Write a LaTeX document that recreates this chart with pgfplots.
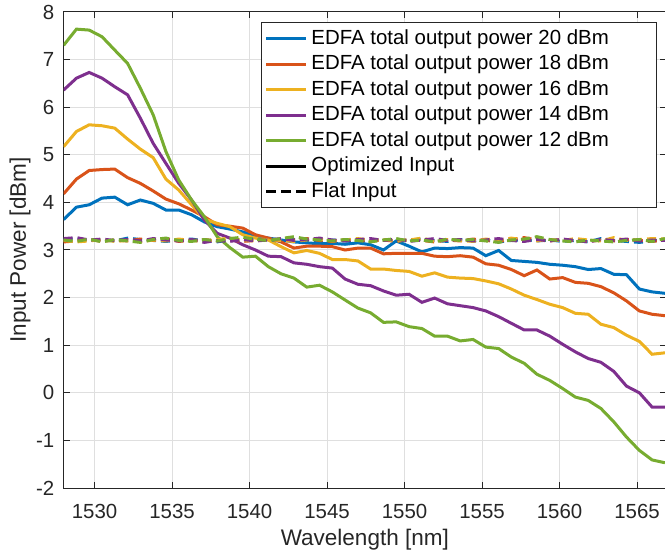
\documentclass[border=0pt]{standalone}
\usepackage{fontspec}
\setmainfont{Liberation Sans}
\usepackage{pgfplots}
\usepackage{pgfplotstable}
\pgfplotsset{compat=1.18}

% MATLAB default line colours
\definecolor{mBlue}{RGB}{0,114,189}
\definecolor{mRed}{RGB}{217,83,25}
\definecolor{mYellow}{RGB}{237,177,32}
\definecolor{mPurple}{RGB}{126,47,142}
\definecolor{mGreen}{RGB}{119,172,48}
\definecolor{axgray}{RGB}{38,38,38}
\definecolor{gridgray}{RGB}{223,223,223}

% input power per channel [dBm]
% b/r/y/p/g : optimized input for EDFA output 20/18/16/14/12 dBm
% bf..gf    : flat input for the same EDFA settings
\pgfplotstableread{
x       b     r     y     p     g      bf   rf   yf   pf   gf
1528.00 3.64  4.18  5.17  6.36  7.30  3.22 3.17 3.20 3.24 3.21
1528.83 3.90  4.49  5.49  6.61  7.64  3.24 3.19 3.17 3.26 3.18
1529.65 3.95  4.67  5.63  6.73  7.62  3.20 3.22 3.19 3.21 3.23
1530.48 4.09  4.69  5.61  6.61  7.48  3.21 3.18 3.22 3.23 3.17
1531.30 4.11  4.70  5.56  6.43  7.20  3.19 3.21 3.18 3.20 3.22
1532.13 3.95  4.52  5.33  6.26  6.92  3.25 3.19 3.20 3.22 3.19
1532.95 4.05  4.40  5.12  5.77  6.40  3.22 3.23 3.17 3.19 3.16
1533.78 3.98  4.24  4.94  5.24  5.84  3.20 3.20 3.21 3.24 3.22
1534.60 3.84  4.07  4.49  4.82  5.07  3.18 3.24 3.19 3.21 3.25
1535.43 3.84  3.97  4.26  4.40  4.47  3.21 3.18 3.23 3.19 3.20
1536.26 3.74  3.84  3.95  4.05  4.05  3.23 3.20 3.20 3.22 3.18
1537.08 3.59  3.70  3.65  3.63  3.70  3.19 3.22 3.18 3.16 3.22
1537.91 3.49  3.53  3.56  3.35  3.28  3.17 3.19 3.22 3.20 3.19
1538.73 3.44  3.50  3.49  3.25  3.05  3.22 3.21 3.25 3.18 3.24
1539.56 3.38  3.46  3.32  3.11  2.85  3.20 3.18 3.21 3.22 3.27
1540.38 3.29  3.32  3.25  3.00  2.87  3.24 3.20 3.19 3.19 3.22
1541.21 3.25  3.25  3.21  2.87  2.65  3.21 3.23 3.22 3.21 3.20
1542.03 3.21  3.17  3.07  2.86  2.50  3.19 3.19 3.20 3.24 3.24
1542.86 3.17  3.04  2.94  2.73  2.41  3.22 3.21 3.18 3.20 3.28
1543.69 3.15  3.08  2.99  2.70  2.22  3.20 3.24 3.21 3.22 3.23
1544.51 3.13  3.08  2.93  2.65  2.26  3.18 3.20 3.23 3.25 3.21
1545.34 3.14  3.07  2.80  2.62  2.12  3.21 3.18 3.19 3.21 3.19
1546.16 3.12  3.00  2.80  2.39  1.95  3.19 3.22 3.21 3.19 3.22
1546.99 3.15  3.04  2.77  2.28  1.78  3.17 3.20 3.24 3.22 3.20
1547.81 3.11  3.04  2.60  2.25  1.68  3.20 3.19 3.20 3.24 3.17
1548.64 3.00  2.92  2.60  2.14  1.48  3.22 3.21 3.22 3.20 3.21
1549.46 3.19  2.93  2.57  2.05  1.49  3.19 3.18 3.19 3.23 3.24
1550.29 3.08  2.93  2.55  2.07  1.39  3.21 3.22 3.21 3.18 3.19
1551.12 2.96  2.93  2.45  1.90  1.35  3.23 3.20 3.25 3.21 3.21
1551.94 3.04  2.87  2.52  1.99  1.19  3.20 3.17 3.19 3.24 3.17
1552.77 3.03  2.86  2.43  1.87  1.19  3.18 3.21 3.22 3.20 3.23
1553.59 3.05  2.88  2.41  1.83  1.09  3.22 3.19 3.20 3.22 3.20
1554.42 3.04  2.85  2.40  1.79  1.12  3.19 3.23 3.18 3.19 3.22
1555.24 2.88  2.71  2.35  1.72  0.96  3.21 3.20 3.23 3.21 3.19
1556.07 2.99  2.68  2.29  1.60  0.93  3.17 3.18 3.20 3.24 3.16
1556.89 2.78  2.59  2.18  1.46  0.75  3.20 3.22 3.25 3.20 3.21
1557.72 2.76  2.46  2.05  1.32  0.62  3.22 3.26 3.21 3.18 3.23
1558.54 2.74  2.58  1.96  1.32  0.39  3.19 3.21 3.19 3.22 3.28
1559.37 2.70  2.39  1.86  1.19  0.26  3.21 3.19 3.22 3.19 3.22
1560.20 2.68  2.42  1.79  1.02  0.09  3.18 3.22 3.20 3.23 3.19
1561.02 2.65  2.32  1.67  0.86 -0.09  3.20 3.20 3.24 3.20 3.17
1561.85 2.59  2.30  1.65  0.72 -0.16  3.17 3.18 3.21 3.17 3.21
1562.67 2.61  2.23  1.44  0.64 -0.33  3.24 3.21 3.19 3.22 3.19
1563.50 2.49  2.10  1.37  0.45 -0.61  3.20 3.19 3.26 3.20 3.17
1564.32 2.48  1.93  1.21  0.14 -0.93  3.18 3.22 3.20 3.23 3.20
1565.15 2.18  1.72  1.08  0.00 -1.21  3.16 3.20 3.22 3.19 3.22
1565.97 2.12  1.65  0.81 -0.30 -1.41  3.19 3.18 3.24 3.21 3.18
1566.80 2.09  1.62  0.84 -0.30 -1.47  3.21 3.21 3.23 3.20 3.24
}\powertable

\newcommand{\tickfont}{\fontsize{10.25}{12}\selectfont}
\newcommand{\labelfont}{\fontsize{11.3}{13}\selectfont}

\begin{document}
\begin{tikzpicture}
\path[use as bounding box] (-31.8bp,-31bp) rectangle (300.7bp,244bp);
\begin{axis}[
  at={(0,0)}, anchor=south west,
  scale only axis, width=301.2bp, height=238bp,
  xmin=1528, xmax=1566.87, ymin=-2, ymax=8,
  xtick={1530,1535,...,1565}, ytick={-2,-1,...,8},
  /pgf/number format/assume math mode=true,
  /pgf/number format/1000 sep={},
  ticklabel style={font=\tickfont, text=axgray},
  xticklabel style={inner ysep=0pt, yshift=-7.8bp},
  yticklabel style={inner xsep=0pt, xshift=-4.5bp},
  axis line style={axgray, line width=0.5bp},
  major tick length=3bp,
  tick style={axgray, line width=0.5bp},
  grid=major,
  major grid style={gridgray, line width=0.5bp},
  xlabel={Wavelength [nm]},
  ylabel={Input Power [dBm]},
  label style={font=\labelfont, text=axgray},
  xlabel style={at={(axis description cs:0.5,-0.109)}, anchor=center},
  ylabel style={at={(axis description cs:-0.0724,0.5)}, anchor=center},
  legend cell align=left,
  legend image code/.code={\draw[#1] (0bp,0bp) -- (20bp,0bp);},
  legend style={at={(axis description cs:1,1)}, anchor=north east,
    xshift=-4.35bp, yshift=-5.15bp,
    draw=axgray, line width=0.5bp, fill=white,
    font=\tickfont, text=black,
    inner xsep=1.5bp, inner ysep=1.5bp,
    nodes={inner xsep=1.8bp, inner ysep=1.93bp, text depth=0.15em}},
  every axis plot/.append style={line width=1.5bp},
  flat/.style={dash pattern=on 4.5bp off 2.5bp, forget plot},
]
% optimized input
\addplot[mBlue]   table[x=x, y=b] {\powertable};
\addlegendentry{\makebox[169.4bp][l]{EDFA total output power 20 dBm}}
\addplot[mRed]    table[x=x, y=r] {\powertable};
\addlegendentry{EDFA total output power 18 dBm}
\addplot[mYellow] table[x=x, y=y] {\powertable};
\addlegendentry{EDFA total output power 16 dBm}
\addplot[mPurple] table[x=x, y=p] {\powertable};
\addlegendentry{EDFA total output power 14 dBm}
\addplot[mGreen]  table[x=x, y=g] {\powertable};
\addlegendentry{EDFA total output power 12 dBm}
% flat input
\addplot[mBlue,   flat] table[x=x, y=bf] {\powertable};
\addplot[mRed,    flat] table[x=x, y=rf] {\powertable};
\addplot[mYellow, flat] table[x=x, y=yf] {\powertable};
\addplot[mPurple, flat] table[x=x, y=pf] {\powertable};
\addplot[mGreen,  flat] table[x=x, y=gf] {\powertable};
% line style keys
\addlegendimage{black, line width=1.5bp}
\addlegendentry{Optimized Input}
\addlegendimage{black, line width=1.5bp, dash pattern=on 5bp off 2.5bp}
\addlegendentry{Flat Input}
\end{axis}
\end{tikzpicture}
\end{document}
